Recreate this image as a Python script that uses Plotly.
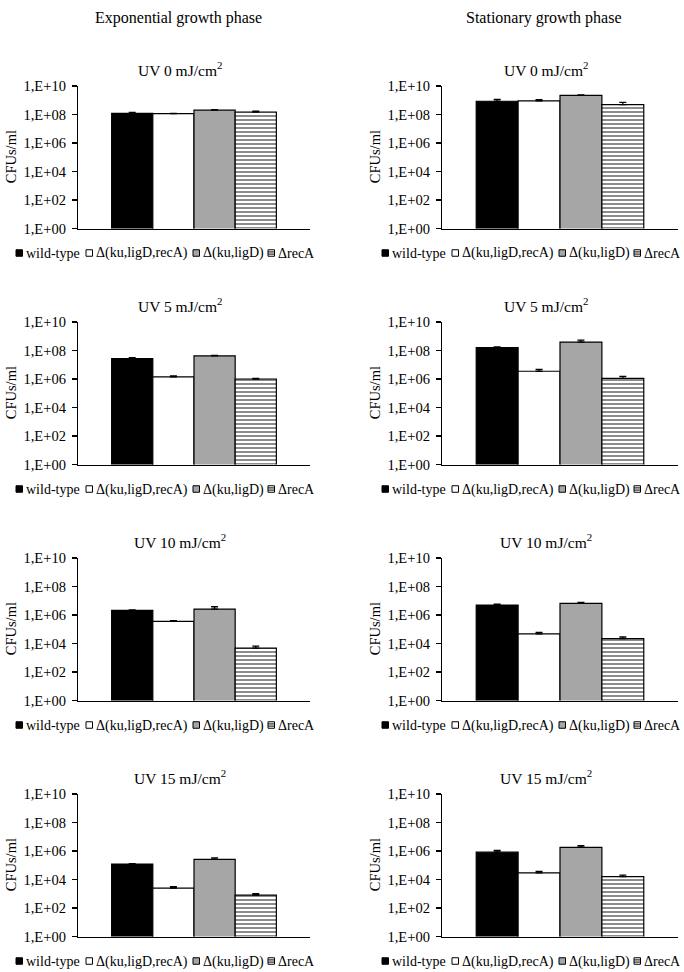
import plotly.graph_objects as go

W, H = 684, 972

# ---------------- data ----------------
strains = ["wild-type", "Δ(ku,ligD,recA)", "Δ(ku,ligD)", "ΔrecA"]
doses = [0, 5, 10, 15]
phases = ["Exponential growth phase", "Stationary growth phase"]
tick_vals = [1, 1e2, 1e4, 1e6, 1e8, 1e10]
tick_text = ["1,E+00", "1,E+02", "1,E+04", "1,E+06", "1,E+08", "1,E+10"]

# CFUs/ml, order: wild-type, Δ(ku,ligD,recA), Δ(ku,ligD), ΔrecA
exp_uv0 = [1.2e8, 1.15e8, 2.0e8, 1.5e8]
exp_uv5 = [2.7e7, 1.4e6, 4.2e7, 1.0e6]
exp_uv10 = [2.1e6, 3.6e5, 2.6e6, 4.8e3]
exp_uv15 = [1.2e5, 2.5e3, 2.6e5, 8.0e2]

stat_uv0 = [8.5e8, 9.0e8, 2.2e9, 4.9e8]
stat_uv5 = [1.6e8, 3.5e6, 3.9e8, 1.1e6]
stat_uv10 = [5.0e6, 4.8e4, 6.6e6, 2.2e4]
stat_uv15 = [8.3e5, 2.9e4, 1.8e6, 1.6e4]

# upper error bars (CFUs/ml)
exp_err_uv0 = [1.8e7, 6.0e6, 2.0e7, 2.2e7]
exp_err_uv5 = [4.5e6, 2.4e5, 4.2e6, 1.0e5]
exp_err_uv10 = [2.1e5, 3.6e4, 1.2e6, 1.8e3]
exp_err_uv15 = [1.2e4, 6.0e2, 6.5e4, 2.0e2]

stat_err_uv0 = [3.2e8, 1.8e8, 2.2e8, 2.2e8]
stat_err_uv5 = [1.6e7, 1.3e6, 1.5e8, 4.2e5]
stat_err_uv10 = [8.5e5, 1.2e4, 1.1e6, 6.6e3]
stat_err_uv15 = [2.5e5, 8.7e3, 5.4e5, 4.0e3]

values = [[exp_uv0, exp_uv5, exp_uv10, exp_uv15],
          [stat_uv0, stat_uv5, stat_uv10, stat_uv15]]
errors = [[exp_err_uv0, exp_err_uv5, exp_err_uv10, exp_err_uv15],
          [stat_err_uv0, stat_err_uv5, stat_err_uv10, stat_err_uv15]]

# ---------------- styling / layout ----------------
FONT = "Liberation Serif"
fills = ["black", "white", "#a6a6a6", "white"]
patterns = ["", "", "", "-"]

col_x = [(78, 310), (442, 678)]          # pixel extents of plot areas
row_top0, row_step, row_h = 86, 236, 142.5
legend_key_x = [16, 86, 193, 268]        # left column legend key positions
legend_col_shift = [0, 366]


def px(x):
    return x / W


def py(y):
    return 1 - y / H


fig = go.Figure()
annotations = []
shapes = []

for c in range(2):
    x0, x1 = col_x[c]
    annotations.append(dict(text=phases[c], x=px((x0 + x1) / 2 - 16), y=py(18),
                            xref="paper", yref="paper", showarrow=False,
                            xanchor="center", yanchor="middle",
                            font=dict(family=FONT, size=16, color="black")))
    for r in range(4):
        p = r * 2 + c
        sfx = "" if p == 0 else str(p + 1)
        top = row_top0 + r * row_step
        bot = top + row_h
        xa = "x" + sfx
        ya = "y" + sfx
        for s in range(4):
            mk = dict(color=fills[s], line=dict(color="black", width=1.2))
            if patterns[s]:
                mk["pattern"] = dict(shape=patterns[s], fgcolor="black",
                                     bgcolor="white", size=4, solidity=0.45)
            fig.add_trace(go.Bar(
                x=[f"UV {doses[r]}"], y=[values[c][r][s]], name=strains[s],
                marker=mk, xaxis=xa, yaxis=ya, showlegend=False,
                error_y=dict(type="data", array=[errors[c][r][s]],
                             arrayminus=[0], symmetric=False,
                             color="black", thickness=1.3, width=3.5),
            ))
        fig.layout["xaxis" + sfx] = dict(
            domain=[px(x0), px(x1)], anchor=ya, type="category",
            range=[-0.5, 0.5], showticklabels=False, ticks="",
            showline=True, linecolor="black", linewidth=1.2,
            showgrid=False, zeroline=False, fixedrange=True,
            automargin=False)
        fig.layout["yaxis" + sfx] = dict(
            domain=[py(bot), py(top)], anchor=xa, type="log",
            range=[0, 10], tickvals=tick_vals, ticktext=tick_text,
            ticks="outside", ticklen=5, tickcolor="black", tickwidth=1.2,
            ticklabelstandoff=3,
            tickfont=dict(family=FONT, size=14.5, color="black"),
            showline=True, linecolor="black", linewidth=1.2,
            showgrid=False, zeroline=False, fixedrange=True,
            automargin=False)
        # panel title
        annotations.append(dict(
            text=f"UV {doses[r]} mJ/cm<sup>2</sup>",
            x=px((x0 + x1) / 2 - 14), y=py(top - 17), xref="paper", yref="paper",
            showarrow=False, xanchor="center", yanchor="middle",
            font=dict(family=FONT, size=15.5, color="black")))
        # y-axis title
        annotations.append(dict(
            text="CFUs/ml", x=px(x0 - 67), y=py((top + bot) / 2),
            xref="paper", yref="paper", showarrow=False, textangle=-90,
            xanchor="center", yanchor="middle",
            font=dict(family=FONT, size=14.5, color="black")))
        # legend
        ly = bot + 24.5
        for s in range(4):
            kx = legend_key_x[s] + legend_col_shift[c]
            k = 6.5
            shapes.append(dict(type="rect", xref="paper", yref="paper",
                               x0=px(kx), x1=px(kx + k),
                               y0=py(ly + k / 2), y1=py(ly - k / 2),
                               fillcolor=fills[s],
                               line=dict(color="black", width=1)))
            if patterns[s]:
                for f in (1 / 3, 2 / 3):
                    yy = ly - k / 2 + k * f
                    shapes.append(dict(type="line", xref="paper", yref="paper",
                                       x0=px(kx), x1=px(kx + k),
                                       y0=py(yy), y1=py(yy),
                                       line=dict(color="black", width=1)))
            annotations.append(dict(
                text=strains[s], x=px(kx + k + 1), y=py(ly + 0.5),
                xref="paper", yref="paper", showarrow=False,
                xanchor="left", yanchor="middle",
                font=dict(family=FONT, size=14, color="black")))

fig.update_layout(
    width=W, height=H, margin=dict(l=0, r=0, t=0, b=0, pad=0),
    paper_bgcolor="white", plot_bgcolor="white",
    barmode="group", bargap=0.29, bargroupgap=0,
    showlegend=False, annotations=annotations, shapes=shapes,
    font=dict(family=FONT, color="black"),
)

fig.write_html(
    "out.html",
    config={"displayModeBar": False, "staticPlot": True},
    post_script="document.body.style.margin='0';document.body.style.overflow='hidden';",
)
